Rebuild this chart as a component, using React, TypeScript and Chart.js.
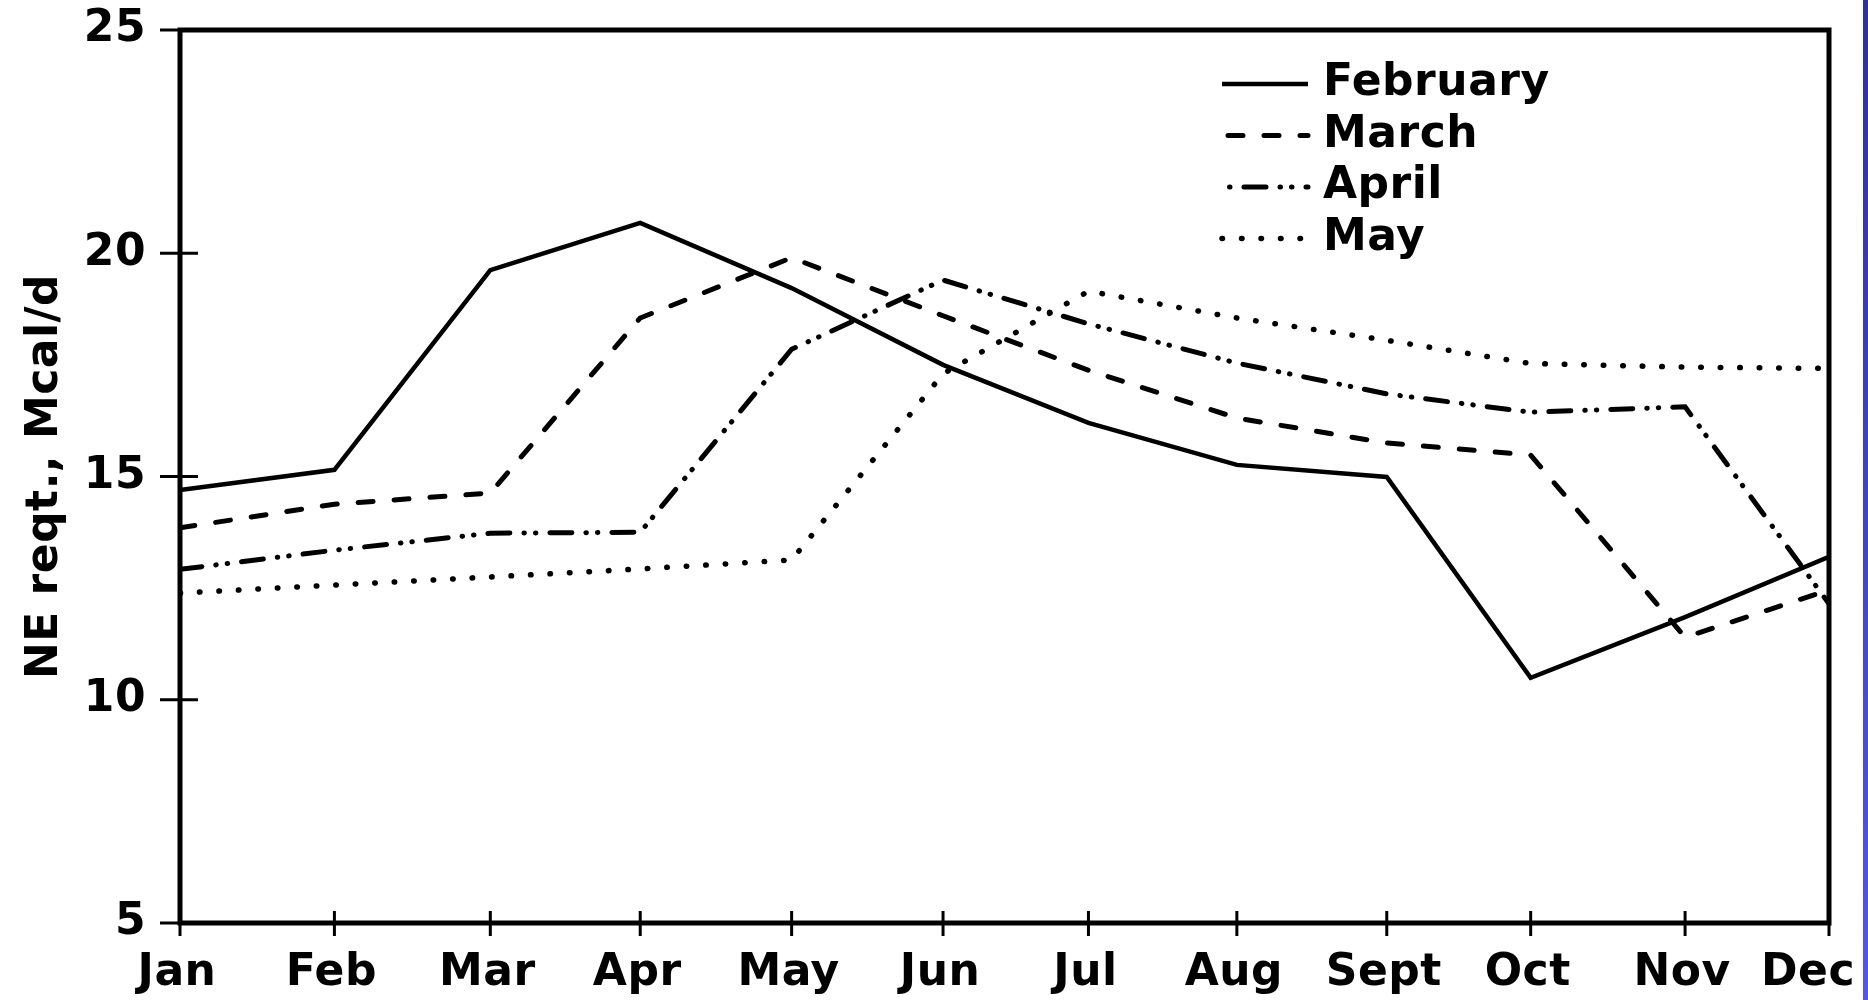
import React, { useEffect, useRef } from "react";
import { Chart, registerables } from "chart.js";

Chart.register(...registerables);

// ---- data ----
const monthLabels = ["Jan", "Feb", "Mar", "Apr", "May", "Jun", "Jul", "Aug", "Sept", "Oct", "Nov", "Dec"];
// tick positions as drawn on the original (slightly uneven spacing)
const monthPositions = [0, 1.03, 2.07, 3.07, 4.08, 5.09, 6.06, 7.05, 8.05, 9.01, 10.04, 11];
const yTickValues = [5, 10, 15, 20, 25];
const seriesNames = ["February", "March", "April", "May"];

const february = [14.7, 15.15, 19.62, 20.68, 19.22, 17.5, 16.2, 15.26, 14.99, 10.49, 11.85, 13.2];
const march = [13.85, 14.38, 14.63, 18.55, 19.9, 18.6, 17.38, 16.31, 15.75, 15.48, 11.4, 12.46];
const april = [12.92, 13.35, 13.73, 13.75, 17.85, 19.4, 18.42, 17.54, 16.85, 16.44, 16.56, 12.15];
const may = [12.39, 12.57, 12.75, 12.93, 13.13, 17.3, 19.15, 18.55, 18.05, 17.53, 17.45, 17.42];

const FONT_FAMILY = "'DejaVu Sans', sans-serif";
const FONT_SIZE = 44;
const LETTER_SPACING = "0.5px";

const toPoints = (vals: number[]) => vals.map((v, i) => ({ x: monthPositions[i], y: v }));

const letterSpacingPlugin = {
  id: "letterSpacing",
  beforeLayout(chart: any) {
    (chart.ctx as any).letterSpacing = LETTER_SPACING;
  },
  beforeDraw(chart: any) {
    (chart.ctx as any).letterSpacing = LETTER_SPACING;
    // keep the last month label inside the page, as in the original
    const xs = chart.scales.x;
    const items = xs && xs.getLabelItems ? xs.getLabelItems() : null;
    if (items && items.length) {
      const last = items[items.length - 1];
      if (!last.__shifted) {
        last.options.translation[0] -= 18;
        last.__shifted = true;
      }
    }
  },
};

const framePlugin = {
  id: "frameTicks",
  afterDraw(chart: any) {
    const { ctx, chartArea } = chart;
    const { left, right, top, bottom } = chartArea;
    const xs = chart.scales.x;
    const ys = chart.scales.y;
    ctx.save();
    ctx.setLineDash([]);
    ctx.strokeStyle = "#000";
    ctx.lineCap = "square";
    ctx.lineWidth = 5;
    ctx.beginPath();
    ctx.moveTo(left, top);
    ctx.lineTo(right, top);
    ctx.lineTo(right, bottom);
    ctx.lineTo(left, bottom);
    ctx.closePath();
    ctx.stroke();
    ctx.lineWidth = 3;
    ctx.lineCap = "butt";
    ctx.beginPath();
    yTickValues.forEach((v) => {
      const y = ys.getPixelForValue(v);
      ctx.moveTo(left - 20, y);
      ctx.lineTo(left + 18, y);
    });
    monthPositions.forEach((p) => {
      const x = xs.getPixelForValue(p);
      ctx.moveTo(x, bottom - 12);
      ctx.lineTo(x, bottom + 13);
    });
    ctx.stroke();
    ctx.restore();
  },
};

const legendPlugin = {
  id: "customLegend",
  afterDraw(chart: any) {
    const ctx = chart.ctx;
    const x0 = 1222;
    const x1 = 1308;
    const textX = 1323;
    const y0 = 84;
    const step = 51.5;
    ctx.save();
    (ctx as any).letterSpacing = LETTER_SPACING;
    chart.data.datasets.forEach((ds: any, i: number) => {
      const y = y0 + i * step;
      ctx.strokeStyle = "#000";
      ctx.lineWidth = ds.borderWidth;
      ctx.lineCap = ds.borderCapStyle || "butt";
      ctx.setLineDash(ds.borderDash || []);
      ctx.lineDashOffset = ds.legendDashOffset || 0;
      ctx.beginPath();
      ctx.moveTo(x0, y);
      ctx.lineTo(x1, y);
      ctx.stroke();
      ctx.setLineDash([]);
      ctx.fillStyle = "#000";
      ctx.font = `bold ${FONT_SIZE}px ${FONT_FAMILY}`;
      ctx.textAlign = "left";
      ctx.textBaseline = "middle";
      ctx.fillText(ds.label, textX, y);
    });
    ctx.restore();
  },
};

export default function App() {
  const canvasRef = useRef<HTMLCanvasElement | null>(null);

  useEffect(() => {
    const canvas = canvasRef.current;
    if (!canvas) return;
    const tickFont = { family: FONT_FAMILY, size: FONT_SIZE, weight: "bold" as const };
    const chart = new Chart(canvas, {
      type: "line",
      data: {
        datasets: [
          {
            label: seriesNames[0],
            data: toPoints(february),
            borderColor: "#000",
            borderWidth: 4.5,
            pointRadius: 0,
            borderJoinStyle: "miter",
          },
          {
            label: seriesNames[1],
            data: toPoints(march),
            borderColor: "#000",
            borderWidth: 5,
            borderDash: [15, 21],
            borderCapStyle: "round",
            pointRadius: 0,
            legendDashOffset: 30,
          } as any,
          {
            label: seriesNames[2],
            data: toPoints(april),
            borderColor: "#000",
            borderWidth: 5,
            borderDash: [22, 14, 0.5, 11, 0.5, 14],
            borderCapStyle: "round",
            pointRadius: 0,
            legendDashOffset: 40,
          } as any,
          {
            label: seriesNames[3],
            data: toPoints(may),
            borderColor: "#000",
            borderWidth: 5.5,
            borderDash: [0.5, 19],
            borderCapStyle: "round",
            pointRadius: 0,
          } as any,
        ],
      },
      options: {
        responsive: false,
        animation: false,
        devicePixelRatio: 1,
        layout: { padding: { top: 30, right: 39, bottom: 0, left: 0 } },
        plugins: {
          legend: { display: false },
          tooltip: { enabled: false },
        },
        elements: { line: { tension: 0 } },
        scales: {
          x: {
            type: "linear",
            position: "bottom",
            min: 0,
            max: 11,
            grid: { display: false, drawTicks: false },
            border: { display: false },
            afterBuildTicks: (scale: any) => {
              scale.ticks = monthPositions.map((v) => ({ value: v }));
            },
            afterFit: (scale: any) => {
              scale.height = 77;
              scale.paddingLeft = 0;
              scale.paddingRight = 0;
            },
            ticks: {
              autoSkip: false,
              maxRotation: 0,
              minRotation: 0,
              padding: 24,
              labelOffset: -3,
              color: "#000",
              font: tickFont,
              callback: (_v: any, index: number) => monthLabels[index],
            },
          },
          y: {
            type: "linear",
            position: "left",
            min: 5,
            max: 25,
            grid: { display: false, drawTicks: false },
            border: { display: false },
            afterBuildTicks: (scale: any) => {
              scale.ticks = yTickValues.map((v) => ({ value: v }));
            },
            afterFit: (scale: any) => {
              scale.width = 180;
              scale.paddingTop = 0;
              scale.paddingBottom = 0;
            },
            ticks: {
              padding: 34,
              color: "#000",
              font: tickFont,
              callback: (v: any) => String(v),
            },
            title: {
              display: true,
              text: "NE reqt., Mcal/d",
              color: "#000",
              font: { family: FONT_FAMILY, size: FONT_SIZE, weight: "bold" as const },
              padding: { top: 19, bottom: 0 },
            },
          },
        },
      },
      plugins: [letterSpacingPlugin, framePlugin, legendPlugin],
    } as any);
    return () => chart.destroy();
  }, []);

  return (
    <div style={{ position: "absolute", left: 0, top: 0, width: 1868, height: 1000, background: "#fff" }}>
      <canvas ref={canvasRef} width={1868} height={1000} style={{ width: 1868, height: 1000, display: "block" }} />
      <div
        style={{
          position: "absolute",
          left: 1863,
          top: 0,
          width: 5,
          height: 1000,
          background: "linear-gradient(#30309a, #5656e4)",
        }}
      />
    </div>
  );
}
